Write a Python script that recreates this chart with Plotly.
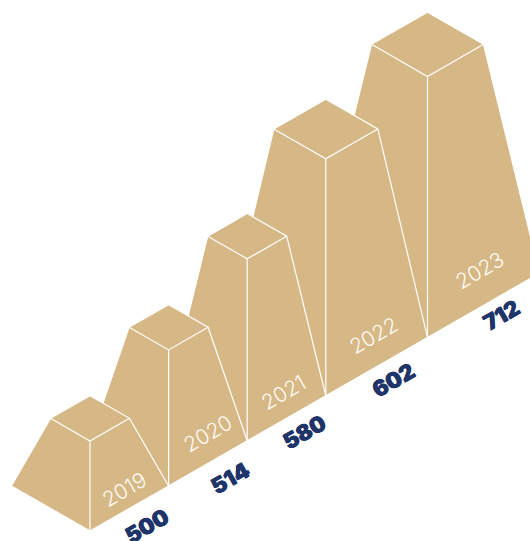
import numpy as np
import plotly.graph_objects as go

# Chart content
years = ["2019", "2020", "2021", "2022", "2023"]
totals = [500, 514, 580, 602, 712]

# Drawn block dimensions, in isometric plot units
block_height = [90, 136, 182, 237, 261]
base_span = [78.6, 78.6, 78.6, 101.7, 112]
top_span = [39.5, 39.5, 39.5, 52, 56]

TAN = "#D6B886"
NAVY = "#1F3468"
PALE = "#FDFAF3"
SLOPE = 0.5735
START = (90.0, 531.0)

# Label placement relative to the middle of each block's right base edge
year_offset = [(-5, -19), (0, -30), (-3, -26), (-3, -31), (-4, -35)]
total_offset = [(17.5, 17.5), (22.5, 14.5), (18, 14), (17, 13.5), (18, 10)]


def block_outlines(front, base, top, height):
    """Silhouette and inner edges of one truncated block, in plot units."""
    fx, fy = front
    tx, ty = fx, fy - height
    dy_b, dy_t = base * SLOPE, top * SLOPE
    outline = [
        (fx, fy), (fx + base, fy - dy_b), (tx + top, ty - dy_t),
        (tx, ty - 2 * dy_t), (tx - top, ty - dy_t), (fx - base, fy - dy_b),
        (fx, fy),
    ]
    inner = [
        (tx - top, ty - dy_t), (tx, ty), (tx + top, ty - dy_t), (None, None),
        (tx, ty), (fx, fy),
    ]
    return outline, inner


fronts = []
x, y = START
for span in base_span:
    fronts.append((x, y))
    x += span
    y -= span * SLOPE

fig = go.Figure()

# Painted from the tallest block back to the first so nearer blocks overlap
for i in reversed(range(len(years))):
    outline, inner = block_outlines(fronts[i], base_span[i], top_span[i], block_height[i])
    fig.add_trace(go.Scatter(
        x=[p[0] for p in outline], y=[p[1] for p in outline],
        mode="lines", fill="toself", fillcolor=TAN,
        line=dict(color="white", width=1.2), hoverinfo="skip", showlegend=False,
    ))
    fig.add_trace(go.Scatter(
        x=[p[0] for p in inner], y=[p[1] for p in inner],
        mode="lines", line=dict(color="white", width=1.2),
        hoverinfo="skip", showlegend=False,
    ))

annotations = []
for i, (year, total) in enumerate(zip(years, totals)):
    mid_x = fronts[i][0] + base_span[i] / 2
    mid_y = fronts[i][1] - base_span[i] / 2 * SLOPE
    annotations.append(dict(
        x=mid_x + year_offset[i][0], y=mid_y + year_offset[i][1], text=year,
        showarrow=False, textangle=-30, xanchor="center", yanchor="middle",
        font=dict(family="Inter", size=21, color=PALE, weight=300),
    ))
    annotations.append(dict(
        x=mid_x + total_offset[i][0], y=mid_y + total_offset[i][1], text=str(total),
        showarrow=False, textangle=-30, xanchor="center", yanchor="middle",
        font=dict(family="Inter", size=22, color=NAVY, weight=900,
                  shadow="0.4px 0 0 #1F3468, -0.4px 0 0 #1F3468"),
    ))

fig.update_layout(
    width=530, height=541,
    margin=dict(l=0, r=0, t=0, b=0),
    paper_bgcolor="white", plot_bgcolor="white",
    xaxis=dict(range=[0, 530], visible=False, fixedrange=True),
    yaxis=dict(range=[541, 0], visible=False, fixedrange=True),
    annotations=annotations,
)

fig.write_html("out.html", config={"displayModeBar": False})
